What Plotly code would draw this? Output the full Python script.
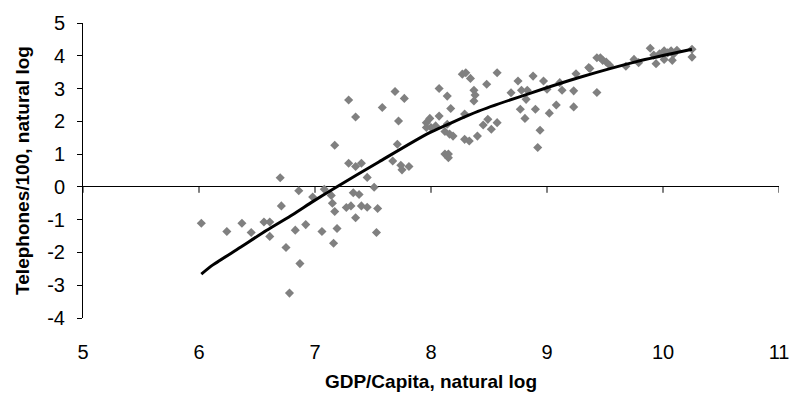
import plotly.graph_objects as go

# Scatter data: ln(GDP per capita) vs ln(telephones per 100)
gdp_log = [6.02, 6.24, 6.37, 6.45, 6.56, 6.61, 6.61, 6.71, 6.70, 6.75,
           6.78, 6.83, 6.86, 6.87, 6.92, 6.98, 7.06, 7.08, 7.14, 7.15,
           7.17, 7.19, 7.16, 7.17, 7.27, 7.31, 7.29, 7.35, 7.29, 7.35,
           7.40, 7.45, 7.33, 7.38, 7.40, 7.45, 7.35, 7.51, 7.54, 7.53,
           7.58, 7.69, 7.77, 7.72, 7.71, 7.67, 7.74, 7.75, 7.81, 7.96,
           7.99, 7.96, 8.00, 8.04, 8.07, 8.07, 8.14, 8.17, 8.12, 8.16,
           8.19, 8.12, 8.15, 8.15, 8.29, 8.29, 8.33, 8.40, 8.27, 8.30,
           8.34, 8.37, 8.38, 8.37, 8.48, 8.57, 8.45, 8.49, 8.52, 8.57,
           8.69, 8.75, 8.78, 8.83, 8.82, 8.77, 8.81, 8.88, 8.90, 8.97,
           8.94, 8.92, 9.02, 9.08, 9.11, 9.13, 9.23, 9.23, 9.25, 9.00,
           8.14, 9.37, 9.43, 9.43, 9.48, 9.51, 9.54, 9.36, 9.68, 9.75,
           9.79, 9.89, 9.92, 9.94, 9.97, 10.01, 10.01, 10.04, 10.07, 10.08,
           10.09, 10.12, 10.25, 10.25, 9.46]
tel_log = [-1.11, -1.36, -1.11, -1.39, -1.07, -1.07, -1.51, -0.58, 0.28, -1.85,
           -3.24, -1.32, -0.12, -2.34, -1.15, -0.31, -1.36, -0.07, -0.26, -0.50,
           -0.75, -1.27, -1.72, 1.27, -0.63, -0.58, 2.65, 2.13, 0.72, 0.62,
           0.72, 0.29, -0.18, -0.23, -0.58, -0.62, -0.94, -0.01, -0.66, -1.39,
           2.42, 2.91, 2.70, 2.01, 1.30, 0.79, 0.66, 0.52, 0.62, 1.96,
           2.09, 1.81, 1.81, 1.86, 2.16, 3.00, 2.77, 2.39, 1.69, 1.61,
           1.55, 1.00, 1.00, 0.89, 2.22, 1.45, 1.40, 1.55, 3.44, 3.48,
           3.31, 2.95, 2.80, 2.62, 3.13, 3.48, 1.89, 2.06, 1.76, 1.96,
           2.87, 3.23, 2.95, 2.95, 2.67, 2.37, 2.09, 3.38, 2.37, 3.23,
           1.73, 1.20, 2.25, 2.50, 3.18, 2.95, 2.93, 2.44, 3.45, 2.98,
           1.91, 3.61, 3.94, 2.88, 3.86, 3.81, 3.71, 3.64, 3.68, 3.89,
           3.79, 4.23, 4.02, 3.76, 4.06, 4.15, 3.89, 4.09, 4.15, 3.86,
           4.05, 4.17, 4.20, 3.96, 3.94]

# Fitted trend line
trend_x = [6.02, 6.12, 6.35, 6.58, 6.81, 6.98, 7.15, 7.55, 7.98, 8.41, 8.84, 9.27, 9.78, 10.25]
trend_y = [-2.66, -2.38, -1.86, -1.33, -0.84, -0.45, -0.08, 0.76, 1.64, 2.31, 2.84, 3.33, 3.83, 4.20]

x_ticks = [5, 6, 7, 8, 9, 10, 11]
y_ticks = [-4, -3, -2, -1, 0, 1, 2, 3, 4, 5]

FONT = "Arial, Liberation Sans, sans-serif"

fig = go.Figure()
fig.add_trace(go.Scatter(
    x=gdp_log, y=tel_log, mode="markers",
    marker=dict(symbol="diamond", size=7, color="#808080", line=dict(width=0)),
    showlegend=False, hoverinfo="skip"))
fig.add_trace(go.Scatter(
    x=trend_x, y=trend_y, mode="lines",
    line=dict(color="black", width=3, shape="spline", smoothing=0.6),
    showlegend=False, hoverinfo="skip"))

# small downward tick marks on the horizontal axis line that crosses at y = 0
for t in x_ticks:
    fig.add_shape(type="line", xref="x", yref="y", x0=t, x1=t, y0=0, y1=-0.18,
                  line=dict(color="black", width=1), layer="above")

fig.update_layout(
    width=791, height=404,
    margin=dict(l=83, r=12, t=23, b=86),
    paper_bgcolor="white", plot_bgcolor="white",
    font=dict(family=FONT, size=20, color="black"),
    xaxis=dict(
        range=[5, 11], tickvals=x_ticks, ticktext=[str(v) for v in x_ticks],
        showline=False, showgrid=False, zeroline=False, ticks="",
        automargin=False, ticklabeloverflow="allow",
        ticklabelstandoff=20,
        tickfont=dict(family=FONT, size=20, color="black"),
        title=dict(text="<b>GDP/Capita, natural log</b>", standoff=12,
                   font=dict(family=FONT, size=19, color="black")),
    ),
    yaxis=dict(
        range=[-4, 5], tickvals=y_ticks, ticktext=[str(v) for v in y_ticks],
        showline=True, linecolor="black", linewidth=1,
        ticks="outside", ticklen=5, tickcolor="black", tickwidth=1,
        showgrid=False, zeroline=True, zerolinecolor="black", zerolinewidth=1,
        automargin=False,
        ticklabelstandoff=8,
        tickfont=dict(family=FONT, size=20, color="black"),
        title=dict(text="<b>Telephones/100, natural log</b>", standoff=12,
                   font=dict(family=FONT, size=19, color="black")),
    ),
)

# remove the default 8px page margin so the figure fills the window exactly
fig.write_html("out.html",
               config={"displayModeBar": False, "staticPlot": True},
               post_script="document.body.style.margin='0';"
                           "document.body.style.overflow='hidden';")
